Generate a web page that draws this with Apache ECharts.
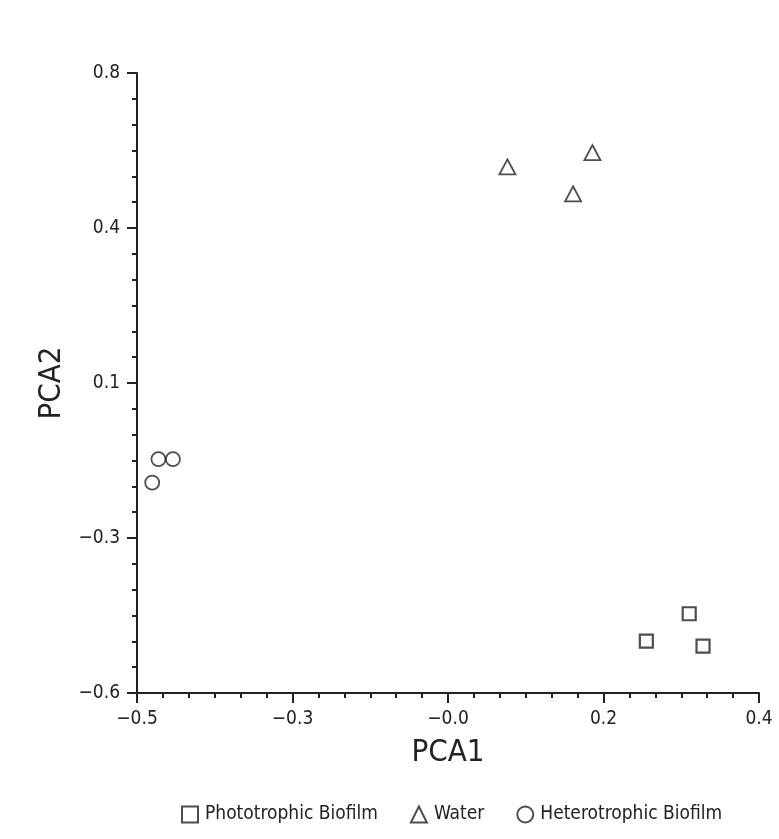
<!DOCTYPE html>
<html>
<head>
<meta charset="utf-8">
<script src="https://cdn.jsdelivr.net/npm/echarts@6/dist/echarts.min.js"></script>
<style>
  html, body { margin: 0; padding: 0; background: #fff; }
  #chart { width: 779px; height: 839px; }
</style>
</head>
<body>
<div id="chart"></div>
<script>
// PCA scores: [PCA1, PCA2]
const phototrophic = [[0.299, -0.421], [0.237, -0.483], [0.319, -0.494]];
const water = [[0.036, 0.588], [0.159, 0.620], [0.131, 0.527]];
const heterotrophic = [[-0.469, -0.072], [-0.448, -0.072], [-0.478, -0.125]];

// printed tick labels (evenly spaced, rounded to one decimal in the source)
const xTickLabels = ['\u22120.5', '\u22120.3', '\u22120.0', '0.2', '0.4'];
const yTickLabels = ['\u22120.6', '\u22120.3', '0.1', '0.4', '0.8'];

const FONT = "'Liberation Sans Narrow', 'DejaVu Sans Condensed', 'Liberation Sans', sans-serif";
const INK = '#222';

const xMin = -0.5, xMax = 0.4, xStep = 0.225;
const yMin = -0.6, yMax = 0.8, yStep = 0.35;

const axisCommon = {
  type: 'value',
  nameLocation: 'middle',
  nameTextStyle: { fontFamily: FONT, fontSize: 31, color: INK },
  axisLine: { show: true, onZero: false, lineStyle: { color: INK, width: 2 } },
  axisTick: { show: true, length: 10, lineStyle: { color: INK, width: 2 } },
  minorTick: { show: true, splitNumber: 6, length: 5, lineStyle: { color: INK, width: 2 } },
  splitLine: { show: false },
  minorSplitLine: { show: false },
};

const chart = echarts.init(document.getElementById('chart'));

const markerStyle = { color: '#fff', borderColor: '#222', borderWidth: 1.8 };

chart.setOption({
  animation: false,
  backgroundColor: '#fff',
  grid: { left: 137, right: 20, top: 73, bottom: 146, containLabel: false },
  xAxis: Object.assign({}, axisCommon, {
    min: xMin, max: xMax, interval: xStep,
    name: 'PCA1',
    nameGap: 44,
    axisLabel: {
      margin: 17,
      fontFamily: FONT, fontSize: 19, color: INK,
      formatter: v => xTickLabels[Math.round((v - xMin) / xStep)],
    },
  }),
  yAxis: Object.assign({}, axisCommon, {
    min: yMin, max: yMax, interval: yStep,
    name: 'PCA2',
    nameGap: 66,
    axisLabel: {
      margin: 17,
      fontFamily: FONT, fontSize: 19, color: INK,
      formatter: v => yTickLabels[Math.round((v - yMin) / yStep)],
    },
  }),
  legend: {
    left: 176,
    top: 800,
    width: 600,
    itemGap: 32,
    itemWidth: 16,
    itemHeight: 16,
    textStyle: { fontFamily: FONT, fontSize: 19, color: INK, padding: [0, 0, 0, 2] },
    data: ['Phototrophic Biofilm', 'Water', 'Heterotrophic Biofilm'],
  },
  series: [
    {
      name: 'Phototrophic Biofilm',
      type: 'scatter',
      symbol: 'rect',
      symbolSize: 13,
      itemStyle: Object.assign({}, markerStyle, { borderWidth: 2.2 }),
      data: phototrophic,
    },
    {
      name: 'Water',
      type: 'scatter',
      symbol: 'triangle',
      symbolSize: [16, 15],
      itemStyle: markerStyle,
      data: water,
    },
    {
      name: 'Heterotrophic Biofilm',
      type: 'scatter',
      symbol: 'circle',
      symbolSize: 14,
      itemStyle: markerStyle,
      data: heterotrophic,
    },
  ],
});
</script>
</body>
</html>
